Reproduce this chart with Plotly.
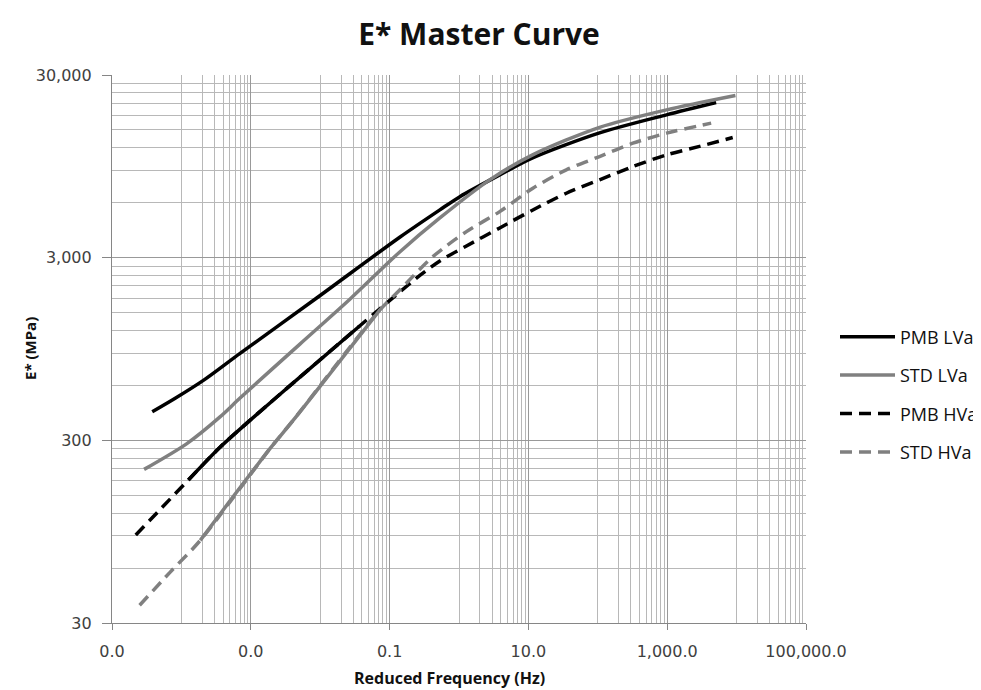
import plotly.graph_objects as go

# ---- data ----
freq_pmb_lva = [3.8e-5, 8.15e-5, 2.1e-4, 7.0e-4, 8.9e-3, 0.14, 0.53, 1.03, 3.86, 11.5, 106, 977, 5070]
e_pmb_lva = [430, 510, 641, 898, 1804, 3880, 5480, 6475, 8515, 10550, 14460, 18160, 21200]

freq_std_lva = [2.9e-5, 1.2e-4, 3.6e-4, 7.0e-4, 5.1e-3, 0.027, 0.14, 0.53, 2.77, 11.5, 106, 977, 9620]
e_std_lva = [208, 288, 403, 511, 1009, 1782, 3224, 4950, 8000, 10960, 15510, 19330, 23170]

freq_pmb_hva = [2.2e-5, 5.3e-5, 1.26e-4, 3.6e-4, 9.8e-4, 5.1e-3, 0.037, 0.14, 0.273, 0.53,
                1.28, 3.86, 11.6, 35.2, 106, 320, 977, 2920, 8790]
e_pmb_hva = [91, 129, 182, 275, 387, 666, 1268, 1946, 2397, 2878,
             3477, 4365, 5475, 6760, 8000, 9460, 10960, 12200, 13640]

freq_std_hva = [2.5e-5, 6.9e-5, 1.87e-4, 1.9e-3, 4.1e-3, 0.072, 0.14, 0.42, 1.28, 3.86,
                11.6, 35.2, 106, 320, 977, 4300]
e_std_hva = [37.5, 57, 85, 271, 387, 1550, 1995, 3040, 4165, 5360,
             7200, 9080, 10730, 12700, 14420, 16350]

series_names = ["PMB LVa", "STD LVa", "PMB HVa", "STD HVa"]

x_tick_vals = [1e-5, 1e-3, 1e-1, 1e1, 1e3, 1e5]
x_tick_text = ["0.0", "0.0", "0.1", "10.0", "1,000.0", "100,000.0"]
y_tick_vals = [30, 300, 3000, 30000]
y_tick_text = ["30", "300", "3,000", "30,000"]

# minor grid positions (Excel-like log grid)
x_minor = [m * 10 * k for m in x_tick_vals[:-1] for k in range(1, 10)]
y_minor = [m * k for m in y_tick_vals[:-1] for k in range(2, 10)]

BLACK = "#000000"
GRAY = "#808080"
DASH = "12px,7px"
LW = 3.5

# the page body adds an 8px margin, so the figure is sized to fit the window
FIG_W, FIG_H = 973, 682

fig = go.Figure()

fig.add_trace(go.Scatter(x=freq_pmb_lva, y=e_pmb_lva, mode="lines", name=series_names[0],
                         legendgroup="g1",
                         line=dict(color=BLACK, width=LW, shape="spline", smoothing=0.8)))
fig.add_trace(go.Scatter(x=freq_std_lva, y=e_std_lva, mode="lines", name=series_names[1],
                         legendgroup="g2",
                         line=dict(color=GRAY, width=LW, shape="spline", smoothing=0.8)))
fig.add_trace(go.Scatter(x=freq_pmb_hva, y=e_pmb_hva, mode="lines", name=series_names[2],
                         legendgroup="g3",
                         line=dict(color=BLACK, width=LW, dash=DASH, shape="spline", smoothing=0.8)))
fig.add_trace(go.Scatter(x=freq_std_hva, y=e_std_hva, mode="lines", name=series_names[3],
                         legendgroup="g4",
                         line=dict(color=GRAY, width=LW, dash=DASH, shape="spline", smoothing=0.8)))
# dense middle sections render solid in the original
fig.add_trace(go.Scatter(x=freq_pmb_hva[2:7], y=e_pmb_hva[2:7], mode="lines", showlegend=False,
                         legendgroup="g3", hoverinfo="skip",
                         line=dict(color=BLACK, width=LW, shape="spline", smoothing=0.8)))
fig.add_trace(go.Scatter(x=freq_std_hva[2:6], y=e_std_hva[2:6], mode="lines", showlegend=False,
                         legendgroup="g4", hoverinfo="skip",
                         line=dict(color=GRAY, width=LW, shape="spline", smoothing=0.8)))

tickfont = dict(family="DejaVu Sans", size=16, color="#404040")

fig.update_layout(
    width=FIG_W, height=FIG_H,
    margin=dict(l=104, r=175, t=67, b=67),
    paper_bgcolor="white", plot_bgcolor="white",
    title=dict(text="<b>E* Master Curve</b>", x=471 / FIG_W, xref="container", xanchor="center",
               y=1 - 26 / FIG_H, yref="container", yanchor="middle",
               font=dict(family="Open Sans", size=30, color="#111111")),
    xaxis=dict(type="log", range=[-5, 5], tickmode="array", tickvals=x_tick_vals,
               ticktext=x_tick_text, tickfont=tickfont, automargin=False,
               showgrid=True, gridcolor="#999999", gridwidth=1.2,
               showline=True, linecolor="#868686", linewidth=1.2,
               ticks="outside", ticklen=6, tickcolor="#868686", ticklabelstandoff=8,
               zeroline=False,
               minor=dict(tickmode="array", tickvals=x_minor, showgrid=True,
                          gridcolor="#b8b8b8", gridwidth=1, ticks="")),
    yaxis=dict(type="log", range=[1.4771213, 4.4771213], tickmode="array",
               tickvals=y_tick_vals, ticktext=y_tick_text, tickfont=tickfont, automargin=False,
               showgrid=True, gridcolor="#999999", gridwidth=1.2,
               showline=True, linecolor="#868686", linewidth=1.2,
               ticks="outside", ticklen=9, tickcolor="#868686", ticklabelstandoff=7,
               zeroline=False,
               minor=dict(tickmode="array", tickvals=y_minor, showgrid=True,
                          gridcolor="#b8b8b8", gridwidth=1, ticks="")),
    legend=dict(xref="container", yref="container", x=827 / FIG_W, xanchor="left",
                y=1 - 386.5 / FIG_H, yanchor="middle",
                font=dict(family="Open Sans", size=18, color="#111111"),
                bgcolor="rgba(0,0,0,0)", tracegroupgap=12, itemwidth=55),
    annotations=[
        dict(text="<b>Reduced Frequency (Hz)</b>", xref="paper", yref="paper",
             x=(449 - 112) / 694, y=(623 - 678) / 548, xanchor="center", yanchor="middle",
             showarrow=False, font=dict(family="Open Sans", size=16, color="#111111")),
        dict(text="<b>E* (MPa)</b>", xref="paper", yref="paper", textangle=-90,
             x=(30 - 112) / 694, y=0.5, xanchor="center", yanchor="middle",
             showarrow=False, font=dict(family="Open Sans", size=15, color="#111111")),
    ],
)

fig.write_html("out.html")
